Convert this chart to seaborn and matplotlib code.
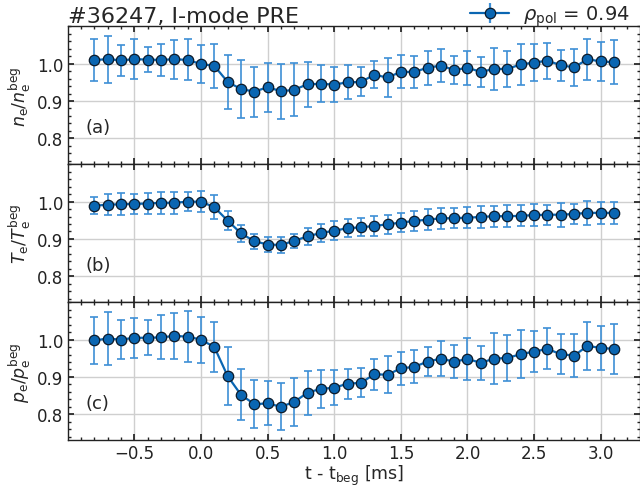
import numpy as np
import pandas as pd
import matplotlib
matplotlib.use("Agg")
import matplotlib.pyplot as plt
from matplotlib.ticker import MultipleLocator
import seaborn as sns

# ---- data ----
t = [-0.8, -0.7, -0.6, -0.5, -0.4, -0.3, -0.2, -0.1, 0.0, 0.1,
     0.2, 0.3, 0.4, 0.5, 0.6, 0.7, 0.8, 0.9, 1.0, 1.1,
     1.2, 1.3, 1.4, 1.5, 1.6, 1.7, 1.8, 1.9, 2.0, 2.1,
     2.2, 2.3, 2.4, 2.5, 2.6, 2.7, 2.8, 2.9, 3.0, 3.1]

ne = [1.010, 1.012, 1.009, 1.012, 1.011, 1.010, 1.012, 1.010, 0.999, 0.994,
      0.951, 0.932, 0.925, 0.937, 0.926, 0.930, 0.945, 0.946, 0.944, 0.950,
      0.951, 0.970, 0.963, 0.978, 0.978, 0.989, 0.995, 0.983, 0.989, 0.978,
      0.986, 0.986, 0.998, 1.003, 1.008, 0.996, 0.990, 1.012, 1.006, 1.004]
ne_err = [0.057, 0.063, 0.042, 0.053, 0.033, 0.042, 0.052, 0.055, 0.050, 0.059,
          0.072, 0.079, 0.067, 0.066, 0.074, 0.071, 0.060, 0.050, 0.048, 0.046,
          0.039, 0.036, 0.052, 0.044, 0.043, 0.045, 0.045, 0.038, 0.045, 0.041,
          0.057, 0.048, 0.054, 0.049, 0.048, 0.042, 0.050, 0.055, 0.052, 0.059]

te = [0.989, 0.992, 0.993, 0.994, 0.995, 0.997, 0.997, 1.000, 1.000, 0.985,
      0.949, 0.915, 0.894, 0.885, 0.884, 0.895, 0.907, 0.916, 0.922, 0.929,
      0.931, 0.935, 0.939, 0.944, 0.948, 0.952, 0.955, 0.956, 0.957, 0.959,
      0.961, 0.961, 0.962, 0.964, 0.965, 0.965, 0.967, 0.970, 0.970, 0.970]
te_err = [0.023, 0.029, 0.030, 0.026, 0.029, 0.030, 0.029, 0.026, 0.029, 0.032,
          0.025, 0.023, 0.020, 0.019, 0.021, 0.019, 0.023, 0.025, 0.025, 0.025,
          0.024, 0.026, 0.026, 0.026, 0.026, 0.029, 0.028, 0.026, 0.028, 0.030,
          0.028, 0.029, 0.028, 0.030, 0.027, 0.032, 0.028, 0.032, 0.029, 0.029]

pe = [0.998, 1.003, 1.000, 1.005, 1.005, 1.006, 1.010, 1.008, 1.000, 0.980,
      0.902, 0.852, 0.827, 0.829, 0.820, 0.833, 0.858, 0.868, 0.871, 0.882,
      0.884, 0.907, 0.906, 0.923, 0.927, 0.941, 0.949, 0.941, 0.948, 0.938,
      0.949, 0.951, 0.961, 0.968, 0.975, 0.961, 0.957, 0.983, 0.978, 0.975]
pe_err = [0.063, 0.072, 0.052, 0.053, 0.047, 0.059, 0.062, 0.069, 0.062, 0.067,
          0.077, 0.068, 0.065, 0.059, 0.063, 0.064, 0.059, 0.050, 0.047, 0.040,
          0.039, 0.041, 0.049, 0.045, 0.044, 0.038, 0.047, 0.044, 0.056, 0.045,
          0.068, 0.061, 0.064, 0.055, 0.055, 0.053, 0.057, 0.064, 0.059, 0.068]

ylabels = [r"$n_\mathrm{e}/n_\mathrm{e}^\mathrm{beg}$",
           r"$T_\mathrm{e}/T_\mathrm{e}^\mathrm{beg}$",
           r"$p_\mathrm{e}/p_\mathrm{e}^\mathrm{beg}$"]
panel_tags = ["(a)", "(b)", "(c)"]
title = "#36247, I-mode PRE"
legend_label = r"$\rho_\mathrm{pol}$ = 0.94"
xlabel = r"t - t$_\mathrm{beg}$ [ms]"

# ---- style ----
sns.set_theme(style="white")
plt.rcParams.update({
    "font.family": ["DejaVu Sans"],
    "mathtext.fontset": "dejavusans",
    "font.size": 12,
    "axes.labelsize": 12,
    "xtick.labelsize": 12,
    "ytick.labelsize": 12,
    "axes.edgecolor": "#222222",
    "axes.linewidth": 1.0,
    "xtick.direction": "in",
    "ytick.direction": "in",
    "xtick.top": True,
    "ytick.right": True,
    "xtick.bottom": True,
    "ytick.left": True,
    "xtick.minor.visible": True,
    "ytick.minor.visible": True,
    "xtick.major.size": 4,
    "ytick.major.size": 4,
    "xtick.minor.size": 2,
    "ytick.minor.size": 2,
    "xtick.major.pad": 3,
    "xtick.color": "#222222",
    "ytick.color": "#222222",
})

line_col = "#0a66b2"
err_col = "#3d8fd6"

fig, axes = plt.subplots(3, 1, figsize=(6.4, 4.89), dpi=100, sharex=True, sharey=True)
fig.subplots_adjust(left=0.107, right=1.0, top=0.944, bottom=0.0975, hspace=0.0)

series = [(ne, ne_err), (te, te_err), (pe, pe_err)]
for i, (ax, (vals, errs)) in enumerate(zip(axes, series)):
    df = pd.DataFrame({"t": t, "v": vals, "e": errs})
    ax.errorbar(df["t"], df["v"], yerr=df["e"], fmt="none", ecolor=err_col,
                elinewidth=1.2, capsize=3, capthick=1.2, zorder=2)
    sns.lineplot(data=df, x="t", y="v", ax=ax, color=line_col, linewidth=1.6,
                 marker="o", markersize=7.5, markerfacecolor=line_col,
                 markeredgecolor="#0b1a2a", markeredgewidth=0.9, zorder=3,
                 legend=False)
    ax.grid(True, which="major", color="#cfcfcf", linewidth=1.0, zorder=0)
    ax.set_axisbelow(True)
    ax.set_ylabel(ylabels[i], labelpad=3, fontsize=12.5)
    ax.set_xlabel("")
    ax.text(0.03, 0.27, panel_tags[i], transform=ax.transAxes, va="center",
            ha="left", fontsize=13)
    ax.xaxis.set_major_locator(MultipleLocator(0.5))
    ax.xaxis.set_minor_locator(MultipleLocator(0.1))
    ax.yaxis.set_major_locator(MultipleLocator(0.1))
    ax.yaxis.set_minor_locator(MultipleLocator(0.02))

axes[0].set_ylim(0.73, 1.10)
axes[0].set_xlim(-0.995, 3.295)
axes[0].set_yticks([0.8, 0.9, 1.0])
for ax in axes:
    ax.set_yticklabels(["0.8", "0.9", "1.0"])

h = axes[0].errorbar([], [], yerr=[], fmt="o-", color=line_col, ecolor=err_col,
                     markersize=7.5, markeredgecolor="#0b1a2a",
                     markeredgewidth=0.9, capsize=3, linewidth=1.6)
axes[0].legend([h], [legend_label], loc="lower right", bbox_to_anchor=(0.985, 0.975),
               frameon=False, fontsize=14, handlelength=2.0, borderaxespad=0.0,
               borderpad=0.1, handletextpad=0.7)
axes[0].set_title(title, loc="left", fontsize=16, pad=3)
axes[2].set_xlabel(xlabel, fontsize=12.5, labelpad=0.5)

fig.savefig("out.png", dpi=100)
